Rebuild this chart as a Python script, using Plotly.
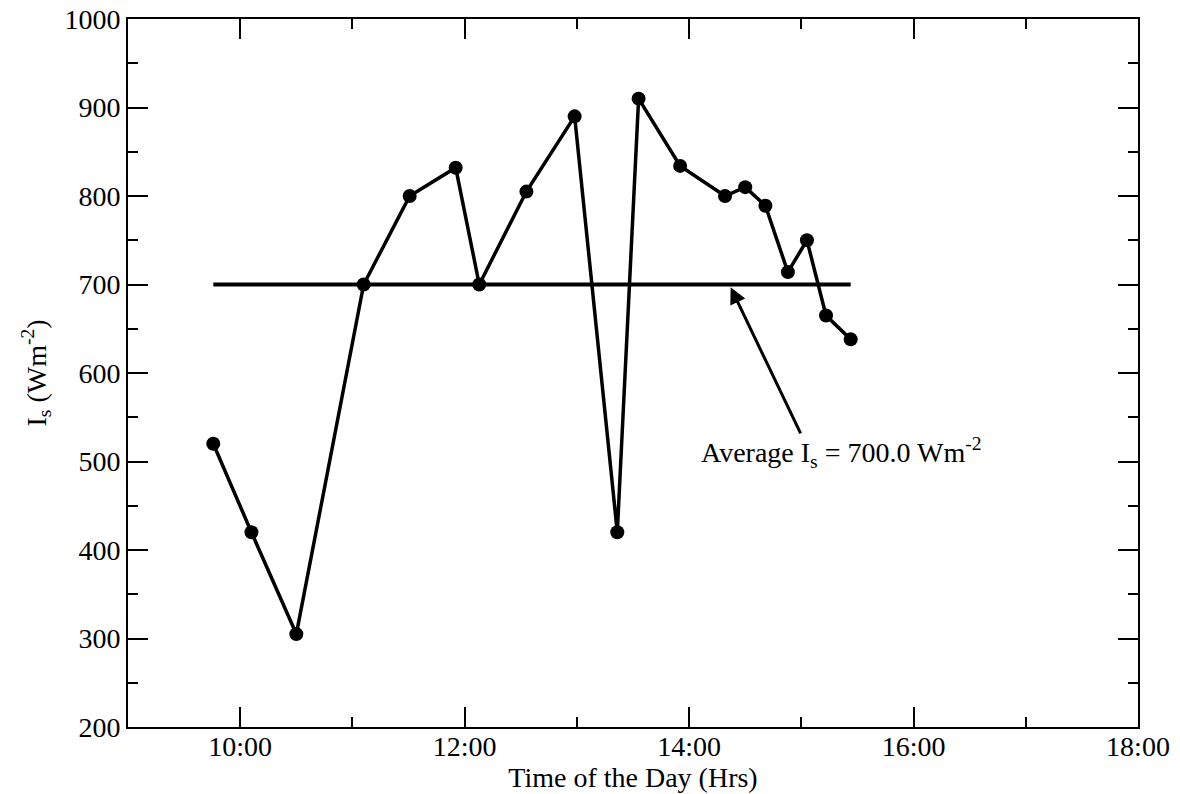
import plotly.graph_objects as go

# Time of day in decimal hours
time_hrs = [9.76, 10.10, 10.50, 11.10, 11.51, 11.92, 12.13, 12.55, 12.98, 13.36,
            13.55, 13.92, 14.32, 14.50, 14.68, 14.88, 15.05, 15.22, 15.44]
irradiance = [520, 420, 305, 700, 800, 832, 700, 805, 890, 420,
              910, 834, 800, 810, 789, 714, 750, 665, 638]

avg_x = [9.76, 15.44]
avg_y = [700.0, 700.0]

x_tickvals = [10, 12, 14, 16, 18]
x_ticktext = ["10:00", "12:00", "14:00", "16:00", "18:00"]
y_tickvals = [200, 300, 400, 500, 600, 700, 800, 900, 1000]

FONT = "Liberation Serif"

fig = go.Figure()
fig.add_trace(go.Scatter(x=avg_x, y=avg_y, mode="lines",
                         line=dict(color="black", width=4), showlegend=False))
fig.add_trace(go.Scatter(x=time_hrs, y=irradiance, mode="lines+markers",
                         line=dict(color="black", width=3.5),
                         marker=dict(color="black", size=14), showlegend=False))

# Arrow annotation
fig.add_annotation(x=14.37, y=697, ax=15.0, ay=530, xref="x", yref="y",
                   axref="x", ayref="y", text="", showarrow=True,
                   arrowhead=2, arrowsize=1.1, arrowwidth=3, arrowcolor="black")
fig.add_annotation(x=14.09, y=510, xref="x", yref="y", xanchor="left", yanchor="middle",
                   text="Average I<sub>s</sub> = 700.0 Wm<sup>-2</sup>", showarrow=False,
                   font=dict(family=FONT, size=28, color="black"))

axis_common = dict(showline=True, linecolor="black", linewidth=2, mirror="allticks",
                   ticks="inside", tickcolor="black", tickwidth=1.5, ticklen=20,
                   showgrid=False, zeroline=False, ticklabeloverflow="allow", automargin=False,
                   tickfont=dict(family=FONT, size=28, color="black"))

fig.update_xaxes(range=[9, 18], tickvals=x_tickvals, ticktext=x_ticktext,
                 ticklabelstandoff=-7,
                 minor=dict(dtick=1, tick0=9, ticks="inside", ticklen=10, tickwidth=1.5, tickcolor="black", showgrid=False),
                 title=dict(text="Time of the Day (Hrs)", font=dict(family=FONT, size=28, color="black"), standoff=0),
                 **axis_common)
fig.update_yaxes(range=[200, 1000], tickvals=y_tickvals,
                 minor=dict(dtick=50, tick0=200, ticks="inside", ticklen=10, tickwidth=1.5, tickcolor="black", showgrid=False),
                 title=dict(text="I<sub>s</sub> (Wm<sup>-2</sup>)", font=dict(family=FONT, size=28, color="black"), standoff=10),
                 **axis_common)

fig.update_layout(width=1180, height=794, plot_bgcolor="white", paper_bgcolor="white",
                  margin=dict(l=128, r=42, t=19, b=67), font=dict(family=FONT, color="black"))

fig.write_html("out.html", config={"displayModeBar": False},
               post_script="document.body.style.margin='0px';")
